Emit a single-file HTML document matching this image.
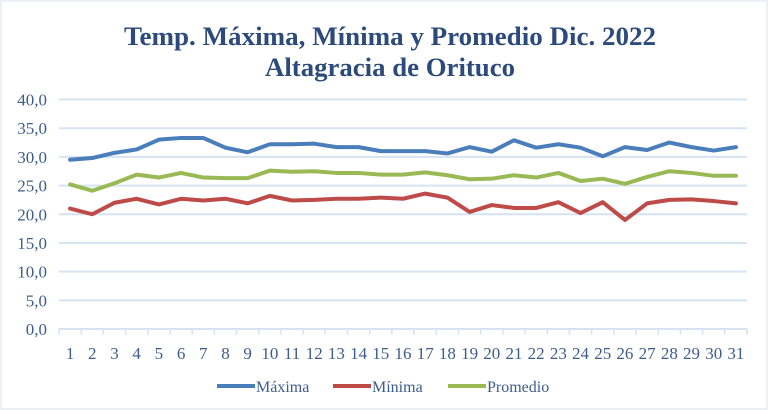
<!DOCTYPE html>
<html><head><meta charset="utf-8"><style>
body{margin:0;background:#fff;}
svg{display:block;font-family:"Liberation Serif",serif;}
</style></head><body>
<svg id="chart" width="768" height="410">
<rect x="1" y="1" width="766" height="408" fill="#fff" stroke="#d9e1ee"/>
<text x="390" y="45" text-anchor="middle" font-size="26" font-weight="bold" fill="#2c4a7c" textLength="532" lengthAdjust="spacingAndGlyphs">Temp. Máxima, Mínima y Promedio Dic. 2022</text>
<text x="390" y="76" text-anchor="middle" font-size="26" font-weight="bold" fill="#2c4a7c" textLength="250" lengthAdjust="spacingAndGlyphs">Altagracia de Orituco</text>
<g id="grid"></g><g id="yticks"></g><g id="xticks"></g><g id="lines"></g><g id="legend"></g>
</svg>
<script>
const days=[1,2,3,4,5,6,7,8,9,10,11,12,13,14,15,16,17,18,19,20,21,22,23,24,25,26,27,28,29,30,31];
const maxima=[29.5,29.8,30.7,31.3,33.0,33.3,33.3,31.6,30.8,32.2,32.2,32.3,31.7,31.7,31.0,31.0,31.0,30.6,31.7,30.9,32.9,31.6,32.2,31.6,30.1,31.7,31.2,32.5,31.7,31.1,31.7];
const minima=[21.0,20.0,22.0,22.7,21.7,22.7,22.4,22.7,21.9,23.2,22.4,22.5,22.7,22.7,22.9,22.7,23.6,22.9,20.4,21.6,21.1,21.1,22.1,20.2,22.1,19.0,21.9,22.5,22.6,22.3,21.9];
const promedio=[25.2,24.1,25.4,26.9,26.4,27.2,26.4,26.3,26.3,27.6,27.4,27.5,27.2,27.2,26.9,26.9,27.3,26.8,26.1,26.2,26.8,26.4,27.2,25.8,26.2,25.3,26.5,27.5,27.2,26.7,26.7];
const yTicks=[0,5,10,15,20,25,30,35,40];
const seriesNames=["Máxima","Mínima","Promedio"];
const ns="http://www.w3.org/2000/svg";
const L=59,R=747,T=99.5,B=329;
const band=(R-L)/days.length;
const xs=i=>L+band*(i+0.5);
const ys=v=>B-(v/40)*(B-T);
function mk(tag,attrs,parent){const e=document.createElementNS(ns,tag);for(const k in attrs)e.setAttribute(k,attrs[k]);parent.appendChild(e);return e;}
const g=document.getElementById('grid'),yt=document.getElementById('yticks'),xt=document.getElementById('xticks'),lg=document.getElementById('lines'),leg=document.getElementById('legend');
yTicks.forEach(v=>{
  const y=ys(v);
  const ln=mk('line',{x1:L,x2:R,y1:y,y2:y,stroke:'#d6e3f3','stroke-width':2},g);
  
  
  const t=mk('text',{x:47,y:y+6,'text-anchor':'end','font-size':17,fill:'#3d5c8c'},yt);
  t.textContent=v.toFixed(1).replace('.',',');
  
  
});
days.forEach((d,i)=>{
  const x0=L+band*i;
  const tk=mk('line',{x1:x0,x2:x0,y1:B,y2:B+6,stroke:'#d6e3f3','stroke-width':1.5},xt);
  
  
  const t=mk('text',{x:xs(i),y:359,'text-anchor':'middle','font-size':17,fill:'#3d5c8c'},xt);
  t.textContent=d;
  
  
});
const tkEnd=mk('line',{x1:R,x2:R,y1:B,y2:B+6,stroke:'#d6e3f3','stroke-width':1.5},xt);


const colors=['#4a7ebb','#be4b48','#98b954'];
[maxima,minima,promedio].forEach((s,k)=>{
  const p=mk('polyline',{points:s.map((v,i)=>xs(i)+','+ys(v)).join(' '),fill:'none',stroke:colors[k],'stroke-width':4,'stroke-linejoin':'round','stroke-linecap':'round'},lg);
  
  
});
const legX=[217,333,448];
seriesNames.forEach((n,k)=>{
  const ln=mk('line',{x1:legX[k],x2:legX[k]+38,y1:386,y2:386,stroke:colors[k],'stroke-width':4},leg);
  
  
  const t=mk('text',{x:legX[k]+39,y:392,'font-size':16,fill:'#3d5c8c'},leg);
  t.textContent=n;
  
  
});
</script>
</body></html>
